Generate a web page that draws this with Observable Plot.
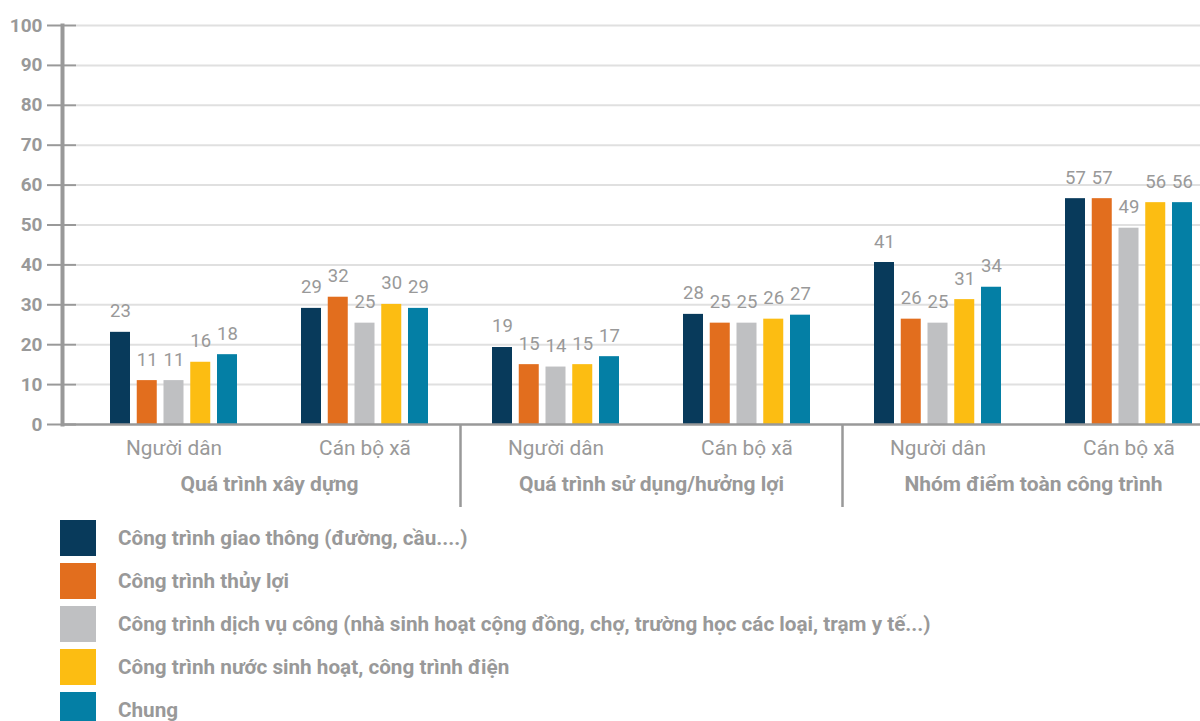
<!DOCTYPE html>
<html><head><meta charset="utf-8">
<script src="https://cdn.jsdelivr.net/npm/d3@7"></script>
<script src="https://cdn.jsdelivr.net/npm/@observablehq/plot@0.6"></script>
<style>
body{margin:0;background:#fff;font-family:Roboto,"Open Sans",sans-serif;}
#legend{margin-top:10px;}
.item{display:flex;align-items:center;height:36px;margin-bottom:7px;}
.sw{width:36px;height:36px;margin-left:60px;margin-right:22px;flex:none;}
.lb{font-weight:700;font-size:20.7px;color:#999;white-space:nowrap;}
</style></head><body><div id="chart"></div><div id="legend"></div>
<script>
const sections = ["Quá trình xây dựng", "Quá trình sử dụng/hưởng lợi", "Nhóm điểm toàn công trình"];
const respondents = ["Người dân", "Cán bộ xã"];
const seriesNames = [
  "Công trình giao thông (đường, cầu....)",
  "Công trình thủy lợi",
  "Công trình dịch vụ công (nhà sinh hoạt cộng đồng, chợ, trường học các loại, trạm y tế...)",
  "Công trình nước sinh hoạt, công trình điện",
  "Chung"
];
const colors = ["#083a5b", "#e26e1e", "#bfc0c2", "#fcbd12", "#047fa5"];
// values per group: [XD-Người dân, XD-Cán bộ xã, SD-Người dân, SD-Cán bộ xã, Toàn-Người dân, Toàn-Cán bộ xã]
const giaoThong = [23.1, 29.1, 19.3, 27.6, 40.6, 56.6];
const thuyLoi   = [11.0, 31.9, 15.0, 25.4, 26.4, 56.6];
const dichVu    = [11.0, 25.4, 14.4, 25.4, 25.4, 49.2];
const nuocDien  = [15.6, 30.1, 15.0, 26.4, 31.3, 55.6];
const chung     = [17.5, 29.1, 17.0, 27.4, 34.4, 55.6];
const yTicks = [0, 10, 20, 30, 40, 50, 60, 70, 80, 90, 100];

const seriesValues = [giaoThong, thuyLoi, dichVu, nuocDien, chung];
const keys = sections.flatMap((s, i) => respondents.map(r => `${i}|${r}`));
const rows = seriesValues.flatMap((vals, j) => vals.map((v, k) => ({key: keys[k], series: seriesNames[j], j, value: v})));

const W = 1200, bandW = 191, barW = 20, barStep = 26.75;
const gray = "#999";
const font = "Roboto, 'Open Sans', sans-serif";

const marks = [
  Plot.ruleY(yTicks.filter(d => d > 0), {y: d => d, insetLeft: 14, stroke: "#e0e0e0", strokeWidth: 2}),
  Plot.ruleY(yTicks, {y: d => d, insetLeft: -15, insetRight: W - 62 - 14, stroke: gray, strokeWidth: 2}),
];
seriesNames.forEach((name, j) => {
  const il = bandW / 2 + (j - 2) * barStep - barW / 2;
  marks.push(Plot.barY(rows.filter(d => d.j === j), {
    x: "key", y: "value", fill: "series", insetLeft: il, insetRight: bandW - il - barW
  }));
  marks.push(Plot.text(rows.filter(d => d.j === j), {
    x: "key", y: "value", text: d => String(Math.round(d.value)), dx: (j - 2) * barStep, dy: -15,
    lineAnchor: "bottom", fontSize: 18.5, fill: gray
  }));
});
marks.push(
  Plot.ruleY([0], {stroke: gray, strokeWidth: 2.5}),
  Plot.frame({anchor: "left", stroke: gray, strokeWidth: 4}),
  Plot.ruleX([keys[2], keys[4]], {x: d => d, dx: -bandW / 2, insetTop: 399, insetBottom: -83, stroke: gray, strokeWidth: 2.5}),
  Plot.axisY({ticks: yTicks, tickSize: 0, tickPadding: 20, fontSize: 19, fontWeight: 700, fill: gray, label: null}),
  Plot.axisX({tickFormat: d => d.split("|")[1], tickSize: 0, tickPadding: 16, fontSize: 20.8, fill: gray, label: null}),
  Plot.text(sections, {x: (d, i) => keys[2 * i + 1], text: d => d, frameAnchor: "bottom", dx: -bandW / 2, dy: 66,
    fontSize: 21, fontWeight: 700, fill: gray})
);

const chart = Plot.plot({
  width: W, height: 510,
  marginLeft: 62, marginRight: 0, marginTop: 25, marginBottom: 86,
  style: {fontFamily: font, background: "#fff", overflow: "visible"},
  x: {domain: keys, range: [78, 78 + bandW * 6], padding: 0},
  y: {domain: [0, 100]},
  color: {domain: seriesNames, range: colors},
  marks
});
document.getElementById("chart").append(chart);

const legend = d3.select("#legend");
seriesNames.forEach((name, j) => {
  const it = legend.append("div").attr("class", "item");
  it.append("div").attr("class", "sw").style("background", colors[j]);
  it.append("div").attr("class", "lb").text(name);
});
</script></body></html>
